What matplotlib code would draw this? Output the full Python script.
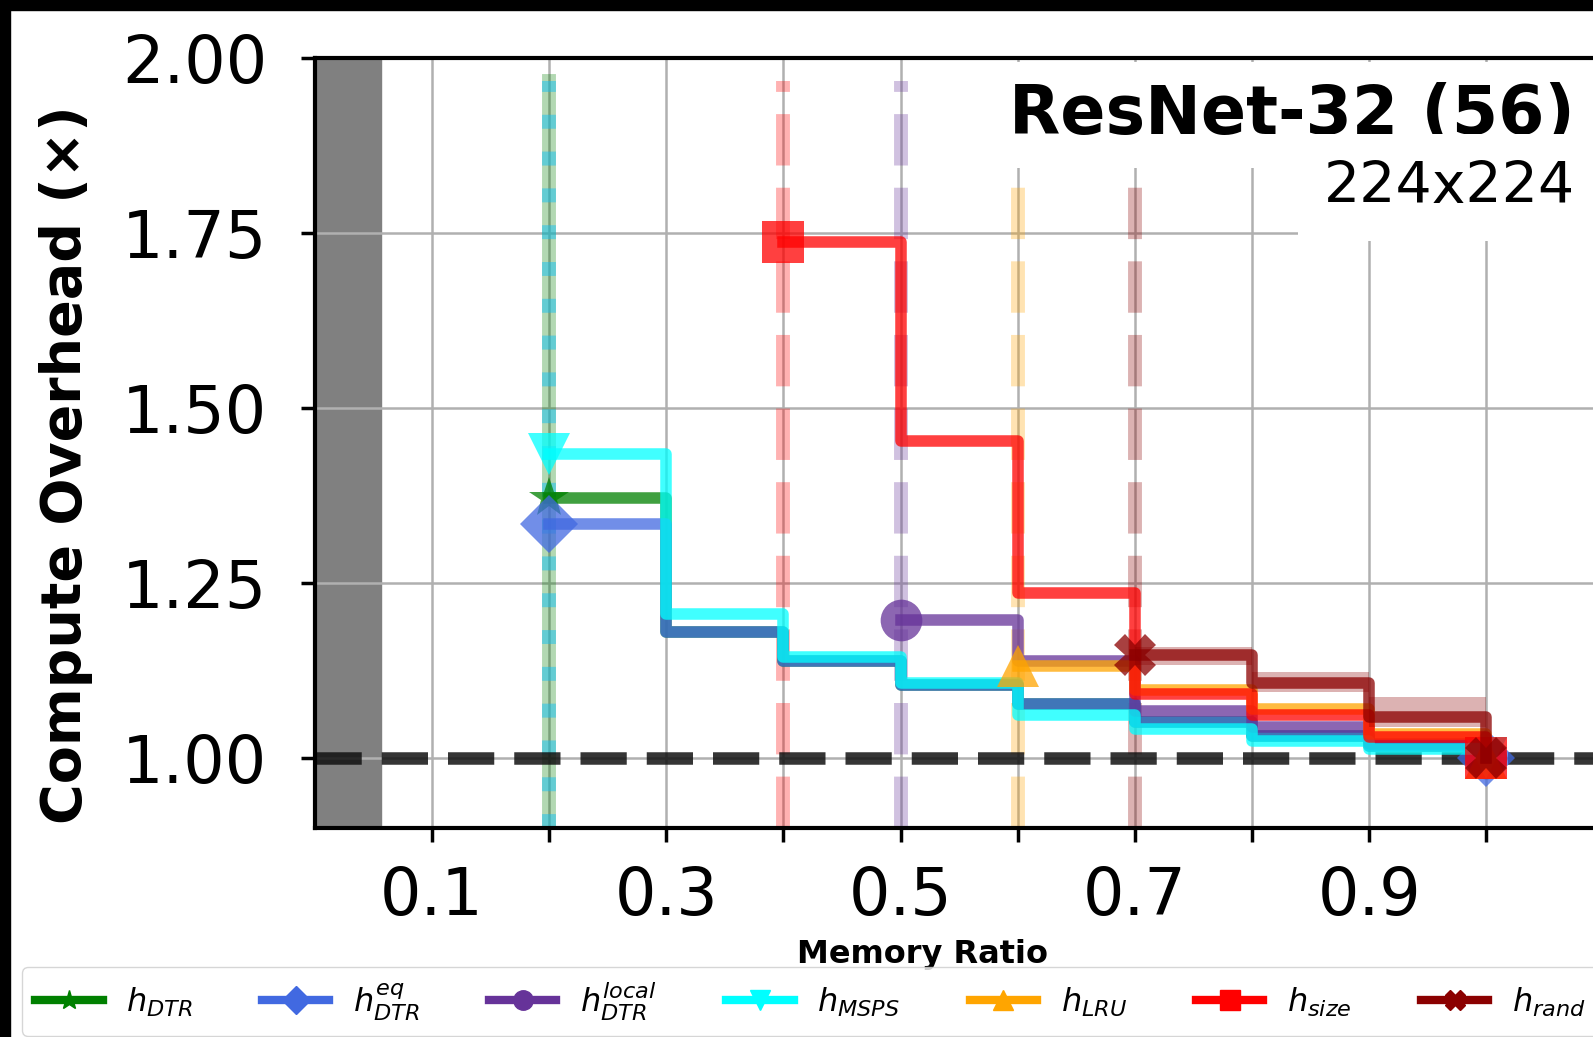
import numpy as np
import matplotlib
matplotlib.use("Agg")
import matplotlib.pyplot as plt
from matplotlib.lines import Line2D
from matplotlib.patches import Rectangle

# ---------------- data ----------------
labels = [r"$h_{DTR}$", r"$h_{DTR}^{eq}$", r"$h_{DTR}^{local}$", r"$h_{MSPS}$",
          r"$h_{LRU}$", r"$h_{size}$", r"$h_{rand}$"]
colors = ["green", "royalblue", "rebeccapurple", "cyan", "orange", "red", "darkred"]
markers = ["*", "D", "o", "v", "^", "s", "X"]
vstyles = ["-", ":", "--", ":", "--", "--", "--"]

x_dtr = [0.2, 0.3, 0.4, 0.5, 0.6, 0.7, 0.8, 0.9, 1.0]
y_dtr = [1.372, 1.180, 1.139, 1.105, 1.077, 1.052, 1.032, 1.017, 1.0]
x_eq = [0.2, 0.3, 0.4, 0.5, 0.6, 0.7, 0.8, 0.9, 1.0]
y_eq = [1.334, 1.180, 1.139, 1.105, 1.077, 1.052, 1.032, 1.017, 1.0]
x_local = [0.5, 0.6, 0.7, 0.8, 0.9, 1.0]
y_local = [1.197, 1.138, 1.067, 1.044, 1.020, 1.0]
x_msps = [0.2, 0.3, 0.4, 0.5, 0.6, 0.7, 0.8, 0.9, 1.0]
y_msps = [1.434, 1.206, 1.145, 1.107, 1.062, 1.041, 1.025, 1.013, 1.0]
x_lru = [0.6, 0.7, 0.8, 0.9, 1.0]
y_lru = [1.132, 1.097, 1.070, 1.035, 1.0]
x_size = [0.4, 0.5, 0.6, 0.7, 0.8, 0.9, 1.0]
y_size = [1.737, 1.453, 1.235, 1.091, 1.062, 1.030, 1.0]
x_rand = [0.7, 0.8, 0.9, 1.0]
y_rand = [1.147, 1.107, 1.058, 1.0]
rand_lo = [1.133, 1.095, 1.045, 1.0]
rand_hi = [1.158, 1.123, 1.087, 1.0]

xs = [x_dtr, x_eq, x_local, x_msps, x_lru, x_size, x_rand]
ys = [y_dtr, y_eq, y_local, y_msps, y_lru, y_size, y_rand]

xtick_vals = [0.1, 0.2, 0.3, 0.4, 0.5, 0.6, 0.7, 0.8, 0.9, 1.0]
xtick_labels = ["0.1", "", "0.3", "", "0.5", "", "0.7", "", "0.9", ""]
ytick_vals = [1.0, 1.25, 1.5, 1.75, 2.0]
ytick_labels = ["1.00", "1.25", "1.50", "1.75", "2.00"]

title = "ResNet-32 (56)"
subtitle = "224x224"
unfeasible = 0.057

# ---------------- figure ----------------
W, H = 1593, 1037
fig = plt.figure(figsize=(W / 100, H / 100), dpi=100)
fig.patch.set_facecolor("white")

ax = fig.add_axes([314.6 / W, (H - 828) / H, 1289 / W, 770 / H])
ax.set_xlim(0, 1.1)
ax.set_ylim(0.9, 2.0)

ax.grid(True, color="#b0b0b0", lw=1.8)
ax.axvspan(0, unfeasible, color="gray", zorder=1)
ax.axhline(1.0, color="#111111", alpha=0.85, lw=9, ls="--", zorder=1.9)

for i in range(len(xs)):
    ax.axvline(xs[i][0], ymin=0, ymax=0.97, color=colors[i], alpha=0.3, lw=10,
               ls=vstyles[i], zorder=1.8)

for i in range(len(xs)):
    ax.step(xs[i], ys[i], where="post", color=colors[i], lw=8.3, alpha=0.75,
            marker=markers[i], markevery=[0, len(xs[i]) - 1], ms=30,
            markeredgewidth=0, zorder=2 + i * 0.01)

ax.fill_between(x_rand, rand_lo, rand_hi, step="post", color="darkred",
                alpha=0.3, lw=0, zorder=2.1)

ax.set_xticks(xtick_vals)
ax.set_xticklabels(xtick_labels)
ax.set_yticks(ytick_vals)
ax.set_yticklabels(ytick_labels)
ax.tick_params(axis="both", labelsize=47, length=10, width=2.5)
ax.tick_params(axis="x", pad=17)
ax.tick_params(axis="y", pad=24)
for s in ax.spines.values():
    s.set_linewidth(3)
ax.spines["right"].set_visible(False)

fig.text(66 / W, 1 - 465 / H, "Compute Overhead (×)", rotation=90, fontsize=40,
         fontweight="bold", ha="center", va="center")
fig.text(922 / W, 1 - 955 / H, "Memory Ratio", fontsize=23, fontweight="bold",
         ha="center", va="center")

fig.text(1575 / W, 1 - 134 / H, title, fontsize=48, fontweight="bold",
         ha="right", va="baseline",
         bbox=dict(facecolor="white", edgecolor="none", boxstyle="square,pad=0.3"),
         zorder=5)
fig.text(1575 / W, 1 - 203 / H, subtitle, fontsize=41, ha="right", va="baseline",
         bbox=dict(facecolor="white", edgecolor="none", boxstyle="square,pad=0.45"),
         zorder=5)

handles = [Line2D([0], [0], color=colors[i], marker=markers[i], lw=6, ms=14)
           for i in range(len(labels))]
fig.legend(handles, labels, loc="lower left", bbox_to_anchor=(22 / W, 1 / H),
           ncol=7, fontsize=23, handlelength=2.1, handletextpad=0.75,
           columnspacing=2.17, borderpad=0.42, borderaxespad=0)

# black screenshot borders
fig.add_artist(Rectangle((0, 1 - 10 / H), 1, 10 / H, transform=fig.transFigure,
                         color="black", zorder=10))
fig.add_artist(Rectangle((0, 0), 10 / W, 1, transform=fig.transFigure,
                         color="black", zorder=10))

fig.savefig("out.png", dpi=100)
